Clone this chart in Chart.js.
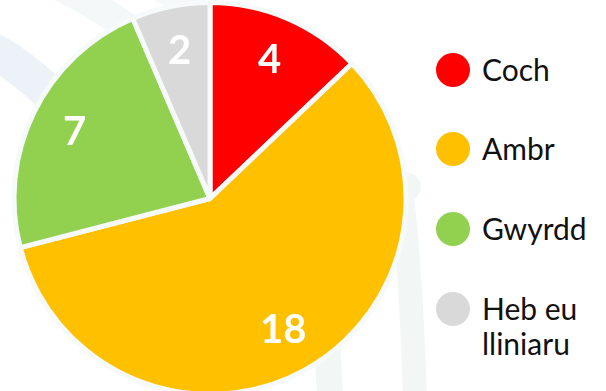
<!DOCTYPE html>
<html>
<head>
<meta charset="utf-8">
<script src="https://cdn.jsdelivr.net/npm/chart.js@4/dist/chart.umd.min.js"></script>
<style>
  html, body { margin: 0; padding: 0; background: #fff; overflow: hidden; }
  body { width: 606px; height: 391px; position: relative; font-family: Lato, "Open Sans", sans-serif; }
  #bg { position: absolute; left: 0; top: 0; }
  #wrap { position: absolute; left: 0; top: 0; width: 420px; height: 397px; }
  #legend { position: absolute; left: 436px; top: 0; margin: 0; padding: 0; list-style: none; }
  #legend li { position: absolute; left: 0; display: flex; align-items: flex-start; white-space: nowrap; }
  #legend .dot { width: 34px; height: 34px; border-radius: 50%; flex: none; }
  #legend .txt { margin-left: 12px; font-size: 30px; line-height: 35px; color: #111; margin-top: -1px; }
</style>
</head>
<body>
<svg id="bg" width="606" height="391">
  <g fill="none" stroke-linecap="butt">
    <path d="M -12 48 Q 50 80 112 168" stroke="#edf2f8" stroke-width="36"/>
    <path d="M 62 -12 Q 105 10 150 42" stroke="#f4f8f8" stroke-width="28"/>
    <path d="M 160 -12 Q 205 8 245 30" stroke="#f5f9f9" stroke-width="28"/>
    <path d="M 402 195 Q 412 290 415 400" stroke="#f2f7f6" stroke-width="24"/>
    <path d="M 327 330 L 330 400" stroke="#f2f7f6" stroke-width="26"/>
  </g>
  <circle cx="407" cy="187" r="14" fill="#f2f7f6"/>
</svg>
<div id="wrap"><canvas id="pieChart"></canvas></div>
<ul id="legend"></ul>
<script>
const categories = ["Coch", "Ambr", "Gwyrdd", "Heb eu\nlliniaru"];
const counts = [4, 18, 7, 2];
const colours = ["#ff0000", "#ffc000", "#92d050", "#d9d9d9"];

// white numbers written on each slice
const sliceLabels = {
  id: "sliceLabels",
  afterDatasetsDraw(chart) {
    const ctx = chart.ctx;
    const meta = chart.getDatasetMeta(0);
    ctx.save();
    ctx.fillStyle = "#fff";
    ctx.font = "bold 40px Lato, 'Open Sans', sans-serif";
    ctx.textAlign = "center";
    ctx.textBaseline = "middle";
    meta.data.forEach((arc, i) => {
      const p = arc.getProps(["x", "y", "startAngle", "endAngle", "outerRadius"], true);
      const mid = (p.startAngle + p.endAngle) / 2;
      const r = p.outerRadius * 0.77;
      ctx.fillText(String(counts[i]), p.x + Math.cos(mid) * r, p.y + Math.sin(mid) * r);
    });
    ctx.restore();
  }
};

new Chart(document.getElementById("pieChart"), {
  type: "pie",
  data: {
    labels: categories,
    datasets: [{
      data: counts,
      backgroundColor: colours,
      borderColor: "#f7fafa",
      borderWidth: 5,
      hoverOffset: 0
    }]
  },
  options: {
    responsive: true,
    maintainAspectRatio: false,
    animation: false,
    layout: { padding: { left: 11, right: 11, top: 0, bottom: 0 } },
    plugins: {
      legend: { display: false },
      tooltip: { enabled: false }
    }
  },
  plugins: [sliceLabels]
});

// legend on the right
const legendTops = [53, 132, 212, 292];
const legend = document.getElementById("legend");
categories.forEach((name, i) => {
  const li = document.createElement("li");
  li.style.top = legendTops[i] + "px";
  const dot = document.createElement("span");
  dot.className = "dot";
  dot.style.background = colours[i];
  const txt = document.createElement("span");
  txt.className = "txt";
  txt.innerHTML = name.split("\n").join("<br>");
  li.appendChild(dot);
  li.appendChild(txt);
  legend.appendChild(li);
});
</script>
</body>
</html>
